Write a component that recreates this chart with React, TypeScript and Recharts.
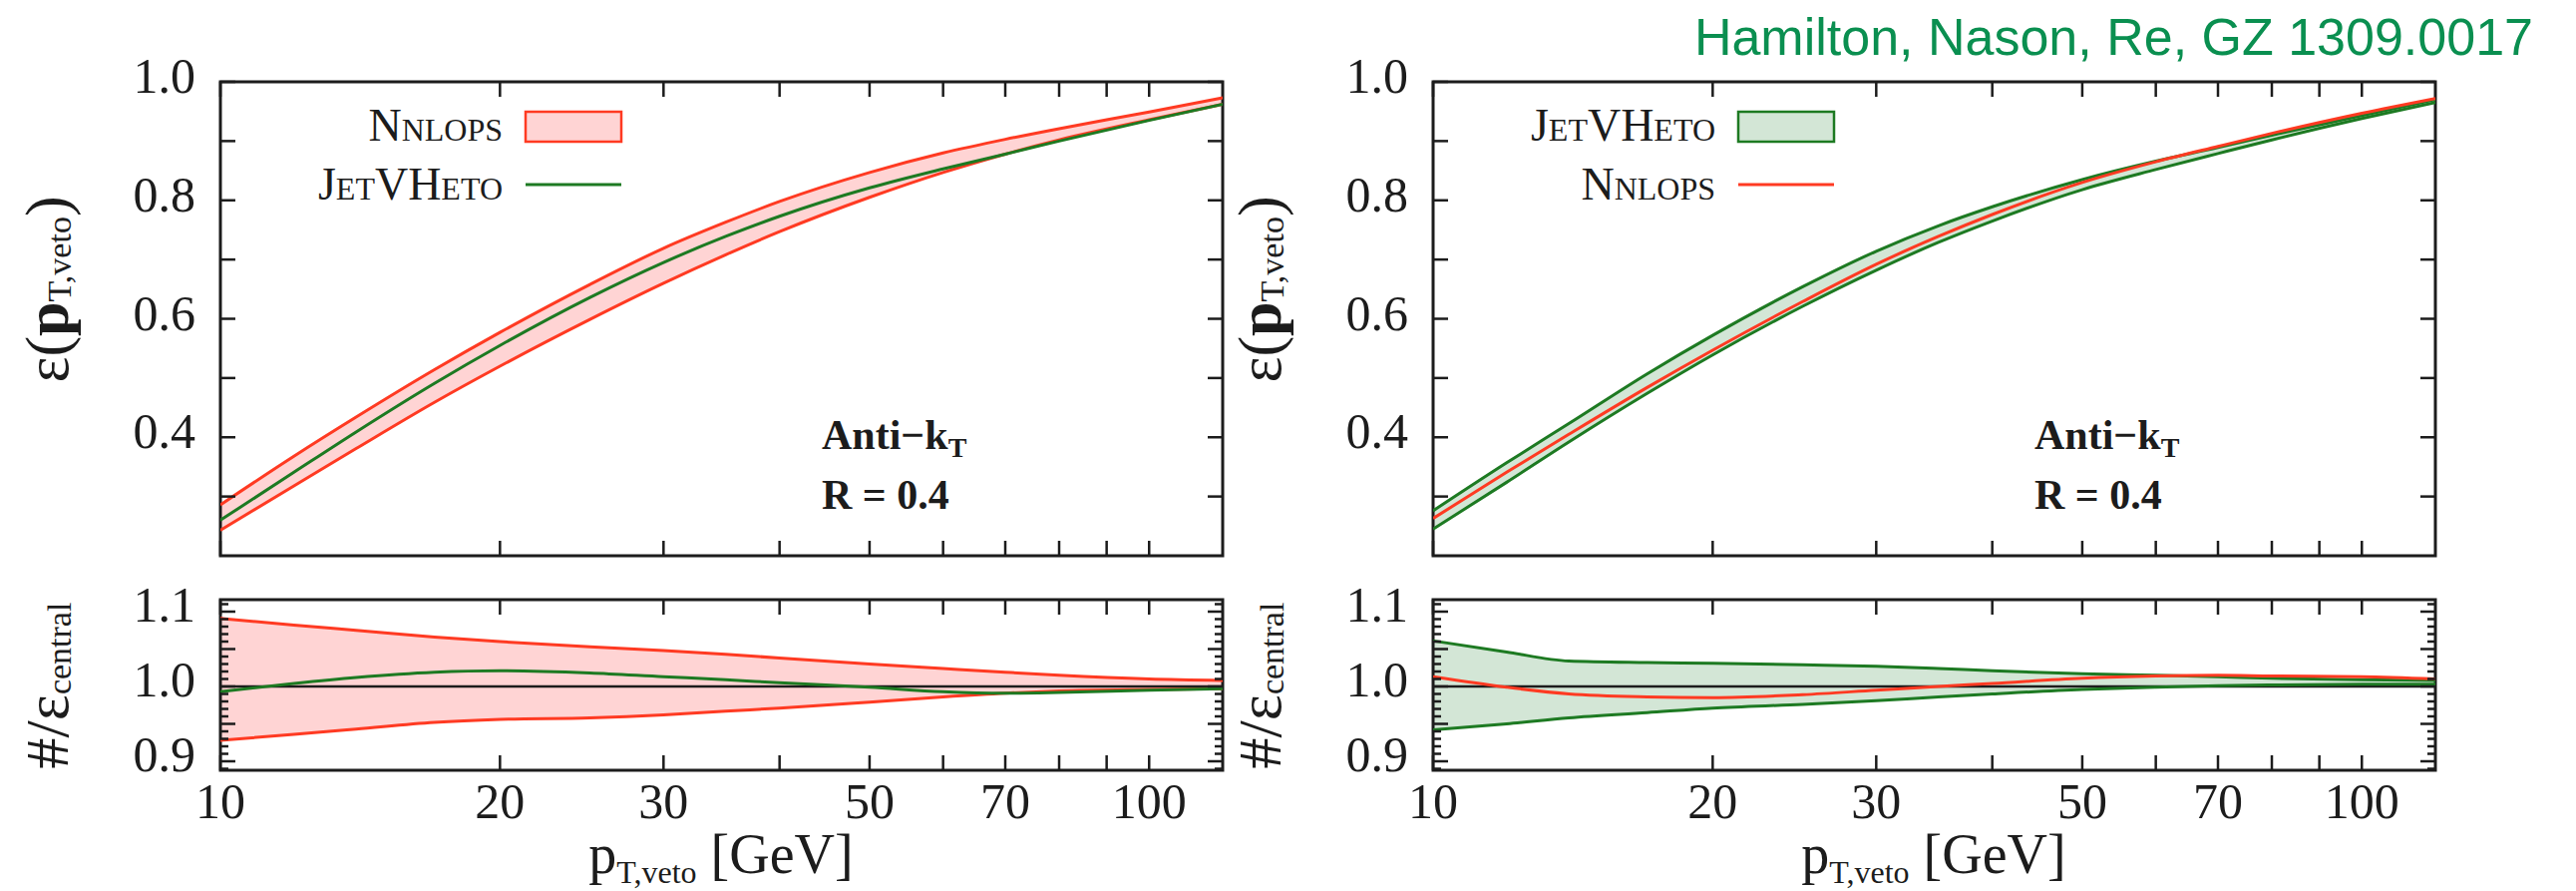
import React from 'react'
import { ComposedChart, Area, Line, XAxis, YAxis, ReferenceLine, ReferenceArea } from 'recharts'

// transverse momentum grid (GeV)
const PT = [10, 12, 14, 17, 20, 25, 30, 35, 40, 50, 60, 70, 80, 100, 120]

// left panel: NNLOPS band, JetVHeto central
const nnlopsUp = [0.286, 0.368, 0.434, 0.514, 0.577, 0.658, 0.719, 0.763, 0.798, 0.847, 0.88, 0.903, 0.921, 0.949, 0.973]
const nnlopsLo = [0.243, 0.318, 0.381, 0.459, 0.52, 0.599, 0.66, 0.708, 0.747, 0.805, 0.847, 0.878, 0.902, 0.936, 0.962]
const jetvhetoLine = [0.26, 0.341, 0.409, 0.491, 0.555, 0.636, 0.695, 0.739, 0.773, 0.821, 0.853, 0.878, 0.9, 0.935, 0.962]

// left ratio to NNLOPS central
const rNnlopsUp = [1.091, 1.082, 1.075, 1.066, 1.06, 1.053, 1.048, 1.043, 1.038, 1.03, 1.024, 1.019, 1.015, 1.01, 1.008]
const rNnlopsLo = [0.928, 0.936, 0.943, 0.952, 0.956, 0.958, 0.962, 0.967, 0.971, 0.979, 0.986, 0.991, 0.994, 0.996, 0.997]
const rJetvheto = [0.993, 1.004, 1.012, 1.019, 1.021, 1.018, 1.013, 1.009, 1.005, 0.999, 0.993, 0.991, 0.992, 0.995, 0.997]

// right panel: JetVHeto band, NNLOPS central
const jetvhetoUp = [0.276, 0.357, 0.423, 0.507, 0.572, 0.654, 0.714, 0.757, 0.789, 0.835, 0.866, 0.889, 0.91, 0.943, 0.97]
const jetvhetoLo = [0.245, 0.324, 0.392, 0.474, 0.539, 0.621, 0.682, 0.729, 0.765, 0.818, 0.852, 0.879, 0.902, 0.938, 0.965]
const nnlopsLine = [0.263, 0.341, 0.405, 0.484, 0.547, 0.629, 0.692, 0.739, 0.776, 0.83, 0.865, 0.891, 0.913, 0.947, 0.972]

// right ratio to JetVHeto central
const rJetvhetoUp = [1.061, 1.046, 1.034, 1.032, 1.031, 1.029, 1.027, 1.024, 1.021, 1.017, 1.015, 1.013, 1.011, 1.009, 1.008]
const rJetvhetoLo = [0.942, 0.95, 0.958, 0.965, 0.971, 0.976, 0.981, 0.986, 0.99, 0.996, 0.999, 1.001, 1.002, 1.003, 1.003]
const rNnlops = [1.013, 0.999, 0.99, 0.986, 0.985, 0.989, 0.995, 1.0, 1.004, 1.011, 1.014, 1.015, 1.014, 1.013, 1.01]

const X_TICKS = [10, 20, 30, 40, 50, 60, 70, 80, 90, 100]
const X_LABELS = [10, 20, 30, 50, 70, 100]
const EFF_TICKS = [0.3, 0.4, 0.5, 0.6, 0.7, 0.8, 0.9, 1.0]
const EFF_LABELS = [0.4, 0.6, 0.8, 1.0]
const RATIO_TICKS = [0.89, 0.9, 0.91, 0.92, 0.93, 0.94, 0.95, 0.96, 0.97, 0.98, 0.99, 1.0,
  1.01, 1.02, 1.03, 1.04, 1.05, 1.06, 1.07, 1.08, 1.09, 1.1, 1.11]
const RATIO_MAJOR = [0.9, 0.95, 1.0, 1.05, 1.1]
const RATIO_LABELS = [0.9, 1.0, 1.1]

const RED = '#ff3a22'
const PINK = '#ffd4d4'
const GREEN = '#1d7a22'
const PALEGREEN = '#d3e6d6'
const INK = '#1c1c1c'
const SERIF = '"Liberation Serif", "DejaVu Serif", serif'

const PLOT_W = 1005
const PANEL_X = [221, 1437]
const UP_TOP = 82
const UP_H = 475
const LO_TOP = 601
const LO_H = 171
const M = { top: 60, right: 30, bottom: 80, left: 120 }

const has = (list: number[], v: number) => list.some((l) => Math.abs(l - v) < 1e-6)

function XTick(props: any) {
  const { x, y, payload, h, showLabel } = props
  const v = payload.value
  return (
    <g>
      <line x1={x} x2={x} y1={y} y2={y - 15} stroke={INK} strokeWidth={2.5} />
      <line x1={x} x2={x} y1={y - h} y2={y - h + 15} stroke={INK} strokeWidth={2.5} />
      {showLabel && has(X_LABELS, v) && (
        <text x={x} y={y + 48} textAnchor="middle" fontFamily={SERIF} fontSize={50} fill={INK}>{v}</text>
      )}
    </g>
  )
}

function YTick(props: any) {
  const { x, y, payload, major, labels, dy } = props
  const v = payload.value
  const len = has(major, v) ? 15 : 8
  return (
    <g>
      <line x1={x} x2={x + len} y1={y} y2={y} stroke={INK} strokeWidth={2.5} />
      <line x1={x + PLOT_W} x2={x + PLOT_W - len} y1={y} y2={y} stroke={INK} strokeWidth={2.5} />
      {has(labels, v) && (
        <text x={x - 25} y={y + dy} textAnchor="end" fontFamily={SERIF} fontSize={50} fill={INK}>{v.toFixed(1)}</text>
      )}
    </g>
  )
}

interface PanelProps {
  x0: number
  top: number
  h: number
  rows: Record<string, unknown>[]
  domain: [number, number]
  ratio: boolean
  bandFill: string
  edge: string
  line: string
}

// axes are 1px wide/high (a 0 size hides the ticks), so shift by 1
function Panel({ x0, top, h, rows, domain, ratio, bandFill, edge, line }: PanelProps) {
  return (
    <div style={{ position: 'absolute', left: x0 - M.left - 1, top: top - M.top }}>
      <ComposedChart width={PLOT_W + M.left + M.right + 1} height={h + M.top + M.bottom + 1} data={rows} margin={M}>
        <XAxis
          dataKey="pt" type="number" scale="log" domain={[10, 120]} ticks={X_TICKS} interval={0}
          height={1} tickSize={0} tickMargin={0} axisLine={false} tickLine={false} allowDataOverflow
          tick={(p: any) => <XTick {...p} h={h} showLabel={ratio} />}
        />
        <YAxis
          type="number" domain={domain} ticks={ratio ? RATIO_TICKS : EFF_TICKS} interval={0}
          width={1} tickSize={0} tickMargin={0} axisLine={false} tickLine={false} allowDataOverflow
          tick={(p: any) => (
            <YTick {...p} major={ratio ? RATIO_MAJOR : EFF_TICKS} labels={ratio ? RATIO_LABELS : EFF_LABELS} dy={ratio ? 10 : 11} />
          )}
        />
        <Area dataKey="band" type="monotone" fill={bandFill} fillOpacity={1} stroke="none" isAnimationActive={false} />
        {ratio && <ReferenceLine y={1} stroke={INK} strokeWidth={2.5} />}
        <Line dataKey="hi" type="monotone" stroke={edge} strokeWidth={3} dot={false} activeDot={false} isAnimationActive={false} />
        <Line dataKey="lo" type="monotone" stroke={edge} strokeWidth={3} dot={false} activeDot={false} isAnimationActive={false} />
        <Line dataKey="c" type="monotone" stroke={line} strokeWidth={3} dot={false} activeDot={false} isAnimationActive={false} />
        <ReferenceArea x1={10} x2={120} y1={domain[0]} y2={domain[1]} fill="none" fillOpacity={0} stroke={INK} strokeWidth={3} />
      </ComposedChart>
    </div>
  )
}

const rows = (hi: number[], lo: number[], c: number[]) =>
  PT.map((pt, i) => ({ pt, band: [lo[i], hi[i]], hi: hi[i], lo: lo[i], c: c[i] }))

function Legend({ x0, bandName, lineName, bandStroke, bandFill, lineColor }: any) {
  return (
    <g fontFamily={SERIF} fontSize={46} fill={INK} style={{ fontVariant: 'small-caps' }}>
      <text x={x0 + 283} y={141} textAnchor="end">{bandName}</text>
      <rect x={x0 + 306} y={112} width={96} height={30} fill={bandFill} stroke={bandStroke} strokeWidth={2.5} />
      <text x={x0 + 283} y={200} textAnchor="end">{lineName}</text>
      <line x1={x0 + 306} x2={x0 + 402} y1={185} y2={185} stroke={lineColor} strokeWidth={3} />
    </g>
  )
}

function Labels({ x0 }: { x0: number }) {
  const yl = x0 - 174
  return (
    <g fontFamily={SERIF} fill={INK}>
      <text transform={`translate(${yl},290) rotate(-90)`} textAnchor="middle" dominantBaseline="central" fontSize={62}>
        ε(<tspan fontWeight="bold">p</tspan><tspan fontSize={34} dy={12}>T,veto</tspan><tspan dy={-12}>)</tspan>
      </text>
      <text transform={`translate(${yl},687) rotate(-90)`} textAnchor="middle" dominantBaseline="central" fontSize={62}>
        #/ε<tspan fontSize={34} dy={12}>central</tspan>
      </text>
      <text x={x0 + 502} y={875} textAnchor="middle" fontSize={56}>
        p<tspan fontSize={32} dy={10}>T,veto</tspan><tspan dy={-10}> [GeV]</tspan>
      </text>
      <g fontWeight="bold" fontSize={42}>
        <text x={x0 + 603} y={450}>Anti−k<tspan fontSize={28} dy={8}>T</tspan></text>
        <text x={x0 + 603} y={510}>R = 0.4</text>
      </g>
    </g>
  )
}

export default function App() {
  const [xl, xr] = PANEL_X
  return (
    <div style={{ position: 'absolute', left: 0, top: 0, width: 2583, height: 893, background: '#fff', overflow: 'hidden' }}>
      <Panel x0={xl} top={UP_TOP} h={UP_H} rows={rows(nnlopsUp, nnlopsLo, jetvhetoLine)} domain={[0.2, 1.0]}
        ratio={false} bandFill={PINK} edge={RED} line={GREEN} />
      <Panel x0={xl} top={LO_TOP} h={LO_H} rows={rows(rNnlopsUp, rNnlopsLo, rJetvheto)} domain={[0.888, 1.116]}
        ratio bandFill={PINK} edge={RED} line={GREEN} />
      <Panel x0={xr} top={UP_TOP} h={UP_H} rows={rows(jetvhetoUp, jetvhetoLo, nnlopsLine)} domain={[0.2, 1.0]}
        ratio={false} bandFill={PALEGREEN} edge={GREEN} line={RED} />
      <Panel x0={xr} top={LO_TOP} h={LO_H} rows={rows(rJetvhetoUp, rJetvhetoLo, rNnlops)} domain={[0.888, 1.116]}
        ratio bandFill={PALEGREEN} edge={GREEN} line={RED} />
      <svg width={2583} height={893} style={{ position: 'absolute', left: 0, top: 0, pointerEvents: 'none' }}>
        <Legend x0={xl} bandName="Nnlops" lineName="JetVHeto" bandStroke={RED} bandFill={PINK} lineColor={GREEN} />
        <Legend x0={xr} bandName="JetVHeto" lineName="Nnlops" bandStroke={GREEN} bandFill={PALEGREEN} lineColor={RED} />
        <Labels x0={xl} />
        <Labels x0={xr} />
        <text x={2540} y={55} textAnchor="end" fontFamily='"Liberation Sans", Arial, sans-serif' fontSize={52} fill="#0a8f50">
          Hamilton, Nason, Re, GZ 1309.0017
        </text>
      </svg>
    </div>
  )
}
